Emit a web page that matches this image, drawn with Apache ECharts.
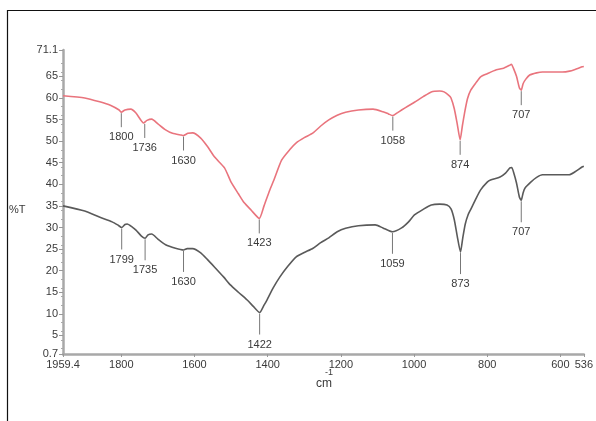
<!DOCTYPE html>
<html>
<head>
<meta charset="utf-8">
<script src="https://cdn.jsdelivr.net/npm/echarts@6/dist/echarts.min.js"></script>
<style>
html,body{margin:0;padding:0;background:#fff;}
#chart{width:596px;height:421px;}
</style>
</head>
<body>
<div id="chart"></div>
<script>
// ---- data ----
const xTickValues = [1959.4, 1800, 1600, 1400, 1200, 1000, 800, 600, 536];
const yTickValues = [0.7, 5, 10, 15, 20, 25, 30, 35, 40, 45, 50, 55, 60, 65, 71.1];

const redSpectrum = [
  [1959.4,60.5],[1900,60.0],[1859,59.1],[1830,58.3],[1806,57.2],[1800,56.7],[1790,57.2],[1774,57.4],
  [1760,56.5],[1739,54.2],[1730,54.8],[1717,55.1],[1700,54.0],[1679,52.6],[1660,51.8],[1636,51.4],
  [1630,51.3],[1618,51.8],[1605,51.9],[1583,50.7],[1565,48.8],[1545,46.3],[1518,43.8],[1500,40.5],
  [1480,37.8],[1464,35.7],[1445,34.0],[1423,32.1],[1410,35.0],[1395,38.5],[1383,41.0],[1362,45.6],
  [1340,48.0],[1322,49.6],[1300,50.8],[1276,51.9],[1255,53.5],[1233,54.9],[1210,56.0],[1187,56.7],
  [1152,57.2],[1112,57.4],[1085,56.8],[1070,56.3],[1058,55.9],[1045,56.6],[1034,57.2],[1015,58.2],
  [999,59.0],[975,60.3],[953,61.4],[930,61.6],[918,61.4],[905,60.6],[899,60.0],[890,57.5],
  [882,54.0],[874,50.3],[868,53.5],[862,56.5],[854,59.8],[845,61.8],[830,63.6],[818,64.9],
  [800,65.6],[775,66.5],[755,66.9],[738,67.6],[734,67.8],[728,66.8],[720,65.0],[712,62.3],
  [707,61.8],[702,63.3],[695,64.3],[684,65.3],[665,65.8],[649,66.0],[620,66.0],[595,66.0],
  [575,66.2],[560,66.6],[541,67.2],[536,67.3]
];

const graySpectrum = [
  [1959.4,35.0],[1900,33.8],[1860,32.4],[1825,31.3],[1810,30.6],[1799,30.0],[1790,30.7],[1784,30.8],
  [1770,30.1],[1760,29.4],[1745,28.0],[1735,27.5],[1727,28.3],[1717,28.5],[1700,27.3],[1679,26.0],
  [1652,25.2],[1630,24.8],[1620,25.1],[1605,25.1],[1583,24.1],[1565,22.6],[1545,20.8],[1520,18.5],
  [1502,16.7],[1480,15.0],[1456,13.2],[1440,11.8],[1422,10.3],[1410,12.0],[1402,13.2],[1385,16.0],
  [1367,18.5],[1345,21.0],[1322,23.2],[1300,24.2],[1276,25.2],[1255,26.5],[1233,27.6],[1210,29.0],
  [1187,29.8],[1152,30.4],[1106,30.6],[1085,29.9],[1059,29.0],[1034,29.9],[1015,31.3],[999,32.9],
  [975,34.2],[953,35.2],[930,35.4],[910,35.2],[899,34.3],[890,31.8],[882,28.0],[873,24.3],
  [867,27.5],[860,30.8],[852,33.0],[845,34.2],[830,36.8],[818,38.7],[800,40.5],[791,41.0],
  [765,41.7],[750,42.6],[738,43.8],[733,43.9],[728,42.8],[720,40.3],[712,37.0],[707,36.3],
  [702,38.0],[697,39.1],[681,40.5],[665,41.6],[649,42.2],[620,42.2],[576,42.2],[560,42.9],
  [541,44.0],[536,44.2]
];

const redPeaks = [
  [1800,56.7,'1800'],[1736,54.2,'1736'],[1630,51.3,'1630'],[1423,32.1,'1423'],
  [1058,55.9,'1058'],[874,50.3,'874'],[707,61.8,'707']
];
const grayPeaks = [
  [1799,30.0,'1799'],[1735,27.5,'1735'],[1630,24.8,'1630'],[1422,10.3,'1422'],
  [1059,29.0,'1059'],[873,24.3,'873'],[707,36.3,'707']
];

// ---- styles ----
const FONT = 'Liberation Sans, Arial, sans-serif';
const TXT = '#3a3a3a';
const RED = '#e9747d';
const GRAY = '#5a5a5a';
const xName = 'cm';
const xNameSup = '-1';
const yName = '%T';

const peakSets = { redAnn: redPeaks, grayAnn: grayPeaks };
function annotRender(tickLen, labelOff) {
  return function (params, api) {
    const p = api.coord([api.value(0), api.value(1)]);
    const label = peakSets[params.seriesName][params.dataIndex][2];
    return {
      type: 'group',
      children: [
        { type: 'line', shape: { x1: p[0], y1: p[1] + 1, x2: p[0], y2: p[1] + 1 + tickLen },
          style: { stroke: '#777', lineWidth: 1 } },
        { type: 'text', x: p[0], y: p[1] + labelOff,
          style: { text: label, fill: TXT, font: '11px ' + FONT, align: 'center', verticalAlign: 'middle' } }
      ]
    };
  };
}

const chart = echarts.init(document.getElementById('chart'));
chart.setOption({
  backgroundColor: '#fff',
  animation: false,
  grid: { left: 63, right: 4, top: 50, bottom: 67, containLabel: false },
  xAxis: {
    type: 'value', inverse: true, min: 536, max: 1959.4,
    axisLine: { show: true, lineStyle: { color: '#a8a8a8', width: 2.5 } },
    axisTick: { show: true, customValues: xTickValues, length: 3, lineStyle: { color: '#999' } },
    axisLabel: { customValues: xTickValues, color: TXT, fontFamily: FONT, fontSize: 11, margin: 5,
      formatter: v => String(v) },
    splitLine: { show: false }
  },
  yAxis: {
    type: 'value', min: 0.7, max: 71.1,
    axisLine: { show: true, lineStyle: { color: '#a8a8a8', width: 2.5 } },
    axisTick: { show: true, customValues: yTickValues, length: 4, lineStyle: { color: '#999' } },
    minorTick: { show: true, splitNumber: 5, length: 2, lineStyle: { color: '#aaa' } },
    axisLabel: { customValues: yTickValues, color: TXT, fontFamily: FONT, fontSize: 11, margin: 5,
      formatter: v => String(v) },
    splitLine: { show: false }
  },
  graphic: [
    { type: 'polyline', shape: { points: [[7.5, 421], [7.5, 10.5], [596, 10.5]] },
      style: { stroke: '#111', lineWidth: 1.2, fill: null } },
    { type: 'text', left: 9, top: 204, style: { text: yName, fill: TXT, font: '11px ' + FONT } },
    { type: 'text', left: 316, top: 378, style: { text: xName, fill: TXT, font: '12px ' + FONT } },
    { type: 'text', left: 325, top: 368, style: { text: xNameSup, fill: TXT, font: '9px ' + FONT } }
  ],
  series: [
    { name: 'red', type: 'line', data: redSpectrum, showSymbol: false, smooth: 0.2,
      lineStyle: { color: RED, width: 1.6 }, z: 3 },
    { name: 'gray', type: 'line', data: graySpectrum, showSymbol: false, smooth: 0.2,
      lineStyle: { color: GRAY, width: 1.6 }, z: 3 },
    { name: 'redAnn', type: 'custom', data: redPeaks, renderItem: annotRender(14, 25), clip: false, z: 4 },
    { name: 'grayAnn', type: 'custom', data: grayPeaks, renderItem: annotRender(21, 32), clip: false, z: 4 }
  ]
});
</script>
</body>
</html>
